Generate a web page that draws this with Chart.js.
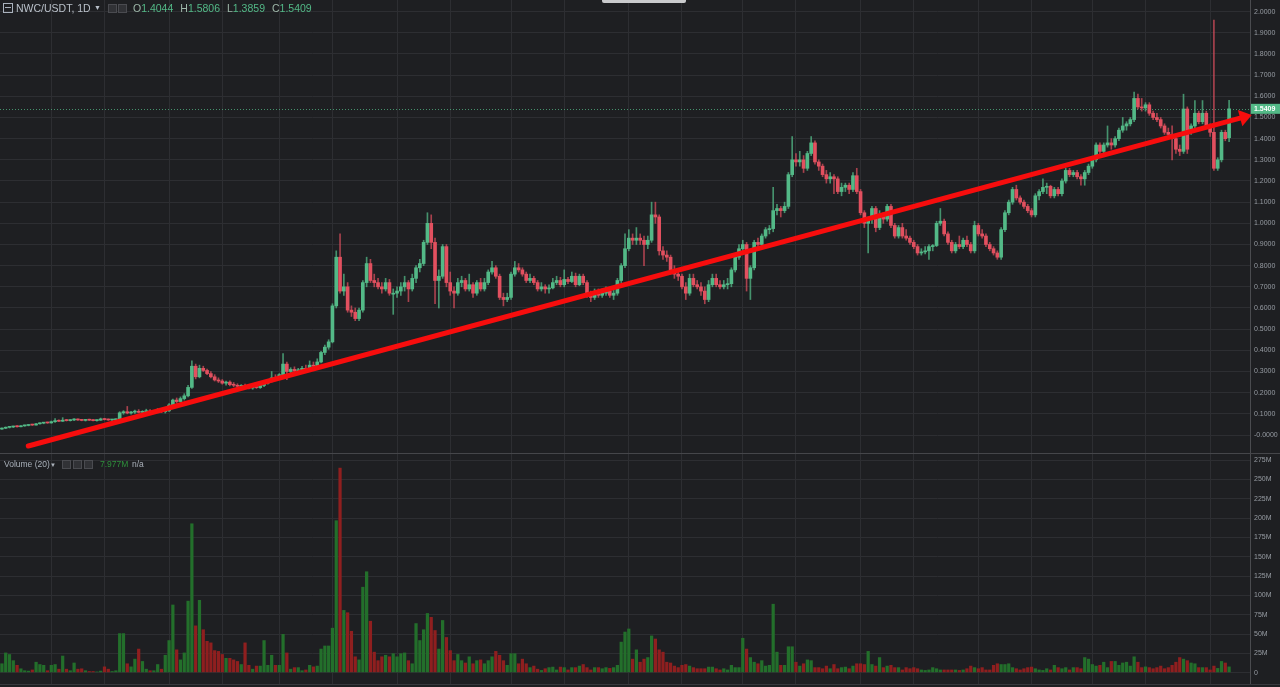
<!DOCTYPE html>
<html>
<head>
<meta charset="utf-8">
<script src="https://cdn.jsdelivr.net/npm/chart.js@4.4.0/dist/chart.umd.min.js"></script>
<style>
html,body{margin:0;padding:0;background:#1e1f22;width:1280px;height:687px;overflow:hidden;font-family:"Liberation Sans",Arial,sans-serif}
#wrap{position:relative;width:1280px;height:687px;background:#1e1f22}
canvas{position:absolute;left:0}
#cp{top:0}
#cv{top:454px}
.sep{position:absolute;left:0;width:1280px;height:1px;background:#45464a}
.hdr{position:absolute;white-space:nowrap;line-height:1}
.box{position:absolute;width:7px;height:7px;border:1px solid #4a4b50;background:#313236}
#tab{position:absolute;left:602px;top:0;width:84px;height:3px;background:#c9cacc;border-radius:0 0 2px 2px}
</style>
</head>
<body>
<div id="wrap">
  <canvas id="cp" width="1280" height="453"></canvas>
  <div class="sep" style="top:453px"></div>
  <canvas id="cv" width="1280" height="230"></canvas>
  <div class="sep" style="top:684px;background:#38393d"></div>
  <div id="tab"></div>

  <div class="hdr" style="left:3px;top:3px;width:8px;height:8px;border:1px solid #aab2bd"></div>
  <div class="hdr" style="left:5px;top:7px;width:6px;height:1px;background:#aab2bd"></div>
  <div class="hdr" id="sym" style="left:16px;top:3px;font-size:10.5px;color:#b9c0c9"></div>
  <div class="hdr" style="left:94px;top:4px;font-size:7px;color:#b9c0c9">&#9660;</div>
  <div class="box" style="left:108px;top:4px"></div>
  <div class="box" style="left:118px;top:4px"></div>
  <div class="hdr" id="ohlc" style="left:133px;top:3px;font-size:10.5px"></div>

  <div class="hdr" style="left:4px;top:460px;font-size:8.5px;color:#aab1ba">Volume (20)</div>
  <div class="hdr" style="left:50px;top:462px;font-size:6px;color:#aab1ba">&#9660;</div>
  <div class="box" style="left:62px;top:460px"></div>
  <div class="box" style="left:73px;top:460px"></div>
  <div class="box" style="left:84px;top:460px"></div>
  <div class="hdr" id="vcur" style="left:100px;top:460px;font-size:8.5px;color:#2e8f3b"></div>
  <div class="hdr" style="left:132px;top:460px;font-size:8.5px;color:#aab1ba">n/a</div>
</div>
<script>
// ---------------- DATA ----------------
const symbol = 'NWC/USDT, 1D';
const startDate = '2019-12-19';
const padDays = 5;

const opens = [
.028,.032,.036,.038,.040,.039,.043,.045,.048,.047,
.053,.056,.058,.057,.063,.066,.065,.070,.068,.071,
.074,.071,.069,.071,.070,.068,.070,.076,.073,.071,
.072,.074,.105,.110,.104,.108,.112,.107,.110,.114,
.109,.112,.116,.110,.114,.142,.165,.158,.172,.185,
.225,.325,.275,.315,.305,.290,.275,.260,.255,.245,
.250,.238,.235,.230,.233,.226,.222,.228,.224,.234,
.245,.255,.270,.265,.285,.335,.300,.310,.302,.308,
.315,.310,.330,.325,.345,.390,.415,.440,.610,.840,
.680,.700,.590,.580,.550,.590,.720,.810,.730,.720,
.700,.690,.720,.670,.670,.680,.700,.720,.690,.740,
.790,.810,.910,1.000,.910,.730,.750,.890,.720,.680,
.670,.720,.730,.690,.710,.670,.720,.690,.720,.770,
.790,.750,.650,.640,.650,.760,.790,.780,.760,.730,
.740,.720,.690,.700,.690,.695,.720,.730,.710,.735,
.725,.750,.710,.750,.720,.660,.650,.670,.660,.670,
.680,.660,.670,.730,.800,.880,.930,.920,.930,.920,
.900,.920,1.040,1.030,.870,.850,.840,.780,.760,.750,
.700,.670,.740,.710,.700,.680,.640,.710,.740,.710,
.700,.710,.715,.780,.840,.880,.900,.740,.790,.910,
.900,.940,.970,.975,1.060,1.070,1.060,1.080,1.230,1.300,
1.290,1.300,1.260,1.330,1.380,1.290,1.270,1.230,1.210,1.220,
1.210,1.150,1.170,1.180,1.160,1.225,1.150,1.050,1.000,1.020,
1.070,.980,1.040,1.020,1.080,.990,.940,.980,.940,.930,
.910,.890,.860,.865,.870,.890,.895,1.000,1.010,.950,
.910,.870,.900,.890,.920,.900,.870,.990,.950,.940,
.900,.880,.860,.840,.970,1.050,1.100,1.160,1.120,1.100,
1.080,1.060,1.040,1.130,1.150,1.170,1.175,1.130,1.160,1.140,
1.200,1.250,1.230,1.240,1.220,1.210,1.240,1.270,1.300,1.370,
1.340,1.370,1.380,1.370,1.400,1.440,1.460,1.470,1.490,1.590,
1.550,1.545,1.560,1.520,1.500,1.490,1.460,1.430,1.420,1.400,
1.350,1.340,1.540,1.430,1.460,1.520,1.480,1.520,1.460,1.430,
1.260,1.300,1.430,1.4044];

const highs = [
.034,.038,.040,.042,.044,.045,.047,.050,.051,.055,
.058,.060,.061,.066,.078,.072,.082,.074,.073,.078,
.077,.074,.073,.075,.073,.072,.080,.079,.076,.074,
.076,.110,.115,.135,.112,.118,.120,.115,.122,.120,
.116,.125,.121,.118,.148,.170,.175,.180,.195,.235,
.350,.335,.330,.325,.312,.300,.285,.270,.262,.255,
.256,.248,.242,.238,.240,.235,.232,.236,.238,.250,
.262,.300,.285,.290,.385,.345,.318,.322,.315,.325,
.330,.350,.345,.360,.395,.425,.450,.620,.870,.950,
.760,.720,.610,.600,.600,.730,.840,.830,.760,.740,
.720,.740,.735,.690,.700,.720,.750,.730,.760,.800,
.830,.920,1.050,1.040,.930,.780,.900,.900,.770,.700,
.740,.750,.740,.760,.720,.730,.740,.740,.780,.820,
.800,.760,.670,.670,.770,.820,.810,.790,.770,.760,
.750,.730,.720,.710,.710,.740,.750,.745,.780,.745,
.770,.765,.760,.760,.730,.680,.690,.690,.690,.700,
.690,.690,.740,.810,.950,.970,.950,.980,.950,.940,
.940,1.100,1.100,1.040,.890,.870,.850,.800,.780,.760,
.720,.760,.760,.730,.720,.700,.730,.760,.760,.730,
.730,.740,.790,.850,.900,.920,.910,.800,.920,.930,
.950,.980,.990,1.170,1.090,1.080,1.100,1.240,1.410,1.330,
1.340,1.320,1.340,1.410,1.390,1.300,1.280,1.250,1.240,1.230,
1.220,1.190,1.190,1.190,1.240,1.260,1.160,1.060,1.030,1.080,
1.080,1.060,1.050,1.090,1.090,1.000,.990,1.000,.970,.940,
.920,.900,.880,.890,.900,.900,1.010,1.070,1.020,.960,
.920,.910,.940,.930,.940,.910,1.010,1.000,.970,.950,
.910,.890,.870,.980,1.060,1.110,1.170,1.180,1.130,1.110,
1.090,1.070,1.140,1.160,1.210,1.190,1.180,1.170,1.170,1.210,
1.260,1.260,1.250,1.250,1.230,1.250,1.280,1.310,1.380,1.380,
1.380,1.460,1.400,1.410,1.450,1.500,1.480,1.500,1.620,1.610,
1.590,1.570,1.570,1.530,1.520,1.500,1.470,1.450,1.460,1.410,
1.370,1.610,1.550,1.470,1.580,1.530,1.580,1.530,1.470,1.960,
1.310,1.440,1.440,1.5806];

const lows = [
.026,.030,.033,.035,.037,.038,.041,.043,.045,.046,
.051,.053,.055,.056,.060,.063,.064,.066,.066,.068,
.069,.067,.066,.068,.066,.065,.069,.071,.069,.068,
.069,.072,.098,.100,.098,.102,.104,.100,.105,.106,
.102,.108,.106,.104,.112,.138,.150,.155,.165,.180,
.220,.265,.270,.300,.285,.270,.255,.248,.240,.236,
.232,.228,.225,.222,.220,.218,.216,.220,.220,.228,
.240,.250,.258,.262,.280,.262,.290,.296,.292,.300,
.302,.305,.315,.320,.340,.380,.405,.435,.600,.670,
.660,.580,.560,.540,.540,.580,.700,.720,.700,.690,
.670,.680,.660,.570,.650,.660,.680,.630,.680,.720,
.770,.800,.900,.880,.620,.600,.740,.700,.660,.600,
.660,.700,.680,.680,.650,.660,.680,.680,.710,.760,
.740,.640,.610,.630,.640,.750,.770,.750,.720,.720,
.710,.680,.680,.670,.670,.690,.710,.700,.700,.715,
.720,.700,.705,.710,.650,.630,.640,.650,.650,.660,
.650,.640,.660,.720,.790,.870,.900,.900,.900,.800,
.880,.910,1.000,.850,.830,.820,.760,.740,.730,.690,
.640,.660,.700,.690,.660,.620,.630,.700,.700,.690,
.690,.690,.700,.770,.830,.860,.680,.640,.780,.880,
.890,.930,.950,.960,1.040,1.030,1.050,1.070,1.220,1.270,
1.270,1.240,1.250,1.320,1.280,1.250,1.220,1.190,1.190,1.140,
1.140,1.130,1.150,1.140,1.150,1.140,1.040,.980,.860,1.000,
.960,.970,1.000,1.010,.980,.930,.930,.930,.920,.900,
.880,.850,.850,.855,.830,.870,.890,.990,.940,.900,
.860,.860,.880,.880,.890,.860,.860,.940,.930,.890,
.870,.850,.830,.830,.960,1.040,1.090,1.110,1.090,1.070,
1.050,1.030,1.030,1.110,1.140,1.140,1.120,1.120,1.130,1.130,
1.190,1.220,1.220,1.210,1.180,1.180,1.230,1.260,1.290,1.320,
1.330,1.360,1.350,1.360,1.390,1.430,1.440,1.460,1.480,1.540,
1.530,1.530,1.510,1.490,1.480,1.450,1.420,1.410,1.300,1.330,
1.320,1.330,1.330,1.420,1.450,1.470,1.470,1.450,1.410,1.250,
1.250,1.290,1.390,1.3859];

const closes = [
.032,.036,.038,.040,.039,.043,.045,.048,.047,.053,
.056,.058,.057,.063,.066,.065,.070,.068,.071,.074,
.071,.069,.071,.070,.068,.070,.076,.073,.071,.072,
.074,.105,.110,.104,.108,.112,.107,.110,.114,.109,
.112,.116,.110,.114,.142,.165,.158,.172,.185,.225,
.325,.275,.315,.305,.290,.275,.260,.255,.245,.250,
.238,.235,.230,.233,.226,.222,.228,.224,.234,.245,
.255,.270,.265,.285,.335,.300,.310,.302,.308,.315,
.310,.330,.325,.345,.390,.415,.440,.610,.840,.680,
.700,.590,.580,.550,.590,.720,.810,.730,.720,.700,
.690,.720,.670,.670,.680,.700,.720,.690,.740,.790,
.810,.910,1.000,.910,.730,.750,.890,.720,.680,.670,
.720,.730,.690,.710,.670,.720,.690,.720,.770,.790,
.750,.650,.640,.650,.760,.790,.780,.760,.730,.740,
.720,.690,.700,.690,.695,.720,.730,.710,.735,.725,
.750,.710,.750,.720,.660,.650,.670,.660,.670,.680,
.660,.670,.730,.800,.880,.930,.920,.930,.920,.900,
.920,1.040,1.030,.870,.850,.840,.780,.760,.750,.700,
.670,.740,.710,.700,.680,.640,.710,.740,.710,.700,
.710,.715,.780,.840,.880,.900,.740,.790,.910,.900,
.940,.970,.975,1.060,1.070,1.060,1.080,1.230,1.300,1.290,
1.300,1.260,1.330,1.380,1.290,1.270,1.230,1.210,1.220,1.210,
1.150,1.170,1.180,1.160,1.225,1.150,1.050,1.000,1.020,1.070,
.980,1.040,1.020,1.080,.990,.940,.980,.940,.930,.910,
.890,.860,.865,.870,.890,.895,1.000,1.010,.950,.910,
.870,.900,.890,.920,.900,.870,.990,.950,.940,.900,
.880,.860,.840,.970,1.050,1.100,1.160,1.120,1.100,1.080,
1.060,1.040,1.130,1.150,1.170,1.175,1.130,1.160,1.140,1.200,
1.250,1.230,1.240,1.220,1.210,1.240,1.270,1.300,1.370,1.340,
1.370,1.380,1.370,1.400,1.440,1.460,1.470,1.490,1.590,1.550,
1.545,1.560,1.520,1.500,1.490,1.460,1.430,1.420,1.400,1.350,
1.340,1.540,1.350,1.460,1.520,1.480,1.520,1.460,1.430,1.260,
1.300,1.430,1.400,1.5409];

// volume in millions
const volumes = [
12,26,24,16,10,5.5,3,2.5,4,14,
11,10,3,10,11,5,22,5,3,13,
5,5.5,3,2,2,1.5,2.5,8,5,2,
3,51,51,12,8,18,31,15,5,3,
3,11,5,23,42,88,30,17,26,93,
193,61,94,56,41,39,29,28,24,19,
19,17,15,11,39,10,5,9,9,42,
10,23,10,10,50,26,5,7,7,3,
4,10,8,9,31,35,35,58,197,265,
81,78,54,21,17,111,131,67,27,16,
21,23,21,25,21,25,26,16,12,64,
42,56,77,72,55,31,68,46,29,16,
24,16,13,21,12,16,17,12,16,21,
28,23,16,10,25,25,12,18,12,7,
9,5,3.4,5.6,7,7.7,4,7.7,7,4,
7,7,9,11,7,4,7,7,5.6,7,
6,7,10,40,53,57,18,30,14,18,
20,48,44,30,27,14,13,9,7,10,
11,9,7,5.6,5.6,5.6,7.7,7.7,5.6,4,
5.6,4,10,7,7,45,31,20,14,12,
16,9,10,89,27,10,10,34,34,14,
9,12,17,16,7,7,5.6,9,5.6,11,
5.6,7,7.7,5.6,9,12,12,11,28,11,
9,20,7,9,10,7,7,4,7,5.6,
7,5.6,4,3.4,4,7,5.6,4,4,4,
4,4,3.4,4,5.6,9,7,5.6,7,4,
4,10,12,11,11,12,7,5.6,4,5.6,
7,7.7,5.6,4,3.4,5.6,4,10,7,5.6,
7,4,7,7,5.6,20,18,11,9,10,
14,7,15,15,10,13,14,9,21,14,
7,8,7,5.6,7,9,5.6,7,10,14,
20,18,16,13,12,7,7,7,4,9,
6,15,13,7.977];

// hand-drawn trend line (category index, price)
const trendX = [6.95, 325.9];
const trendY = [-0.052, 1.497];

// axis tick settings
const priceMin = -0.085, priceMax = 2.055, priceStep = 0.1;
const volMin = -14.6, volMax = 282.8, volStep = 25;

// ---------------- BUILD ----------------
const UP = '#53b987', DOWN = '#e2505f';
const UP_WICK = 'rgba(83,185,135,0.75)', DOWN_WICK = 'rgba(226,80,95,0.7)';
const VUP = '#236f2b', VDOWN = '#8f1f1f';
const GRID = '#2d2e32', AXIS = '#4a4b4f', TICK = '#979ca3';
const TREND = '#f70d0d';
const FONT = "'Liberation Sans', Arial, sans-serif";

const labels = [];
(function(){
  const d0 = new Date(startDate + 'T00:00:00Z').getTime();
  for (let i = 0; i < closes.length + padDays; i++) {
    labels.push(new Date(d0 + i * 86400000).toISOString().slice(0, 10));
  }
})();
const isGridDay = s => s.endsWith('-01') || s.endsWith('-15');

const up = closes.map((c, i) => c >= opens[i]);
const n = closes.length;

document.getElementById('sym').textContent = symbol;
const lastO = opens[n-1], lastH = highs[n-1], lastL = lows[n-1], lastC = closes[n-1];
document.getElementById('ohlc').innerHTML =
  ['O', lastO, 'H', lastH, 'L', lastL, 'C', lastC].reduce((s, v, i) =>
    s + (i % 2 === 0 ? '<span style="color:#9fb8aa">' + v + '</span>'
                     : '<span style="color:#53b987;margin-right:7px">' + v.toFixed(4) + '</span>'), '');
document.getElementById('vcur').textContent = volumes[n-1].toFixed(3) + 'M';

Chart.defaults.font.family = FONT;

const xScale = () => ({
  type: 'category', offset: true,
  grid: { display: true, offset: false, color: GRID, drawTicks: false },
  border: { display: false },
  ticks: { display: false, autoSkip: false },
  afterBuildTicks: s => { s.ticks = s.ticks.filter(t => isGridDay(labels[t.value])); }
});
const fitRight = s => { s.width = 30; s.paddingTop = 0; s.paddingBottom = 0; };

const lastPricePlugin = {
  id: 'lastPrice',
  beforeDatasetsDraw(chart) {
    const ctx = chart.ctx, y = Math.round(chart.scales.y.getPixelForValue(lastC)) + 0.5;
    ctx.save();
    ctx.strokeStyle = 'rgba(83,185,135,0.75)';
    ctx.setLineDash([1, 2]);
    ctx.lineWidth = 1;
    ctx.beginPath(); ctx.moveTo(chart.chartArea.left, y); ctx.lineTo(chart.chartArea.right, y); ctx.stroke();
    ctx.restore();
  },
  afterDraw(chart) {
    const ctx = chart.ctx, y = chart.scales.y.getPixelForValue(lastC), r = chart.chartArea.right;
    ctx.save();
    ctx.fillStyle = UP;
    ctx.fillRect(r + 1, y - 5, chart.width - r - 1, 10);
    ctx.fillStyle = '#ffffff';
    ctx.font = 'bold 7px ' + FONT;
    ctx.textBaseline = 'middle';
    ctx.fillText(lastC.toFixed(4), r + 4, y + 0.5);
    ctx.restore();
  }
};

// trend line + arrow head, positioned through the chart's own x (category) and y scales
const trendPlugin = {
  id: 'trendLine',
  afterDatasetsDraw(chart) {
    const xs = chart.scales.x, ys = chart.scales.y, ctx = chart.ctx;
    const pts = trendX.map((x, i) => [xs.getPixelForValue(x), ys.getPixelForValue(trendY[i])]);
    ctx.save();
    ctx.strokeStyle = TREND;
    ctx.fillStyle = TREND;
    ctx.lineWidth = 5;
    ctx.lineCap = 'round';
    ctx.beginPath();
    pts.forEach((p, i) => i ? ctx.lineTo(p[0], p[1]) : ctx.moveTo(p[0], p[1]));
    ctx.stroke();
    const [x1, y1] = pts[pts.length - 2], [x2, y2] = pts[pts.length - 1];
    const L = Math.hypot(x2 - x1, y2 - y1), ux = (x2 - x1) / L, uy = (y2 - y1) / L;
    const len = 12, hw = 8.5;
    ctx.beginPath();
    ctx.moveTo(x2 + ux * len, y2 + uy * len);
    ctx.lineTo(x2 - uy * hw, y2 + ux * hw);
    ctx.lineTo(x2 + uy * hw, y2 - ux * hw);
    ctx.closePath();
    ctx.fill();
    ctx.restore();
  }
};

new Chart(document.getElementById('cp'), {
  type: 'bar',
  data: {
    labels,
    datasets: [
      { data: opens.map((o, i) => [o, closes[i]]),
        backgroundColor: up.map(u => u ? UP : DOWN), barThickness: 3, minBarLength: 1, grouped: false, order: 1 },
      { data: lows.map((l, i) => [l, highs[i]]),
        backgroundColor: up.map(u => u ? UP_WICK : DOWN_WICK), barThickness: 1, grouped: false, order: 2 }
    ]
  },
  options: {
    responsive: false, animation: false, devicePixelRatio: 1, events: [],
    layout: { padding: 0 },
    plugins: { legend: { display: false }, tooltip: { enabled: false } },
    scales: {
      x: xScale(),
      y: {
        position: 'right', min: priceMin, max: priceMax, afterFit: fitRight,
        grid: { color: GRID, drawTicks: false },
        border: { display: true, color: AXIS },
        ticks: { stepSize: priceStep, includeBounds: false, color: TICK, padding: 4, font: { size: 7 },
          callback: v => Math.abs(v) < 1e-9 ? '-0.0000' : Number(v).toFixed(4) }
      }
    }
  },
  plugins: [lastPricePlugin, trendPlugin]
});

new Chart(document.getElementById('cv'), {
  type: 'bar',
  data: {
    labels,
    datasets: [
      { data: volumes, backgroundColor: up.map(u => u ? VUP : VDOWN),
        categoryPercentage: 1, barPercentage: 0.85, grouped: false }
    ]
  },
  options: {
    responsive: false, animation: false, devicePixelRatio: 1, events: [],
    layout: { padding: 0 },
    plugins: { legend: { display: false }, tooltip: { enabled: false } },
    scales: {
      x: xScale(),
      y: {
        position: 'right', min: volMin, max: volMax, afterFit: fitRight,
        grid: { color: GRID, drawTicks: false },
        border: { display: true, color: AXIS },
        ticks: { stepSize: volStep, includeBounds: false, color: TICK, padding: 4, font: { size: 7 },
          callback: v => Math.abs(v) < 1e-9 ? '0' : Math.round(v) + 'M' }
      }
    }
  }
});
</script>
</body>
</html>
